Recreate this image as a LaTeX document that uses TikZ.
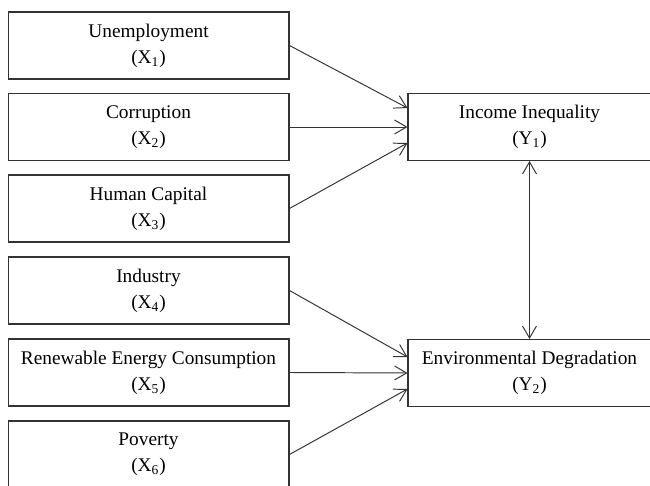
\documentclass[tikz,border=0pt]{standalone}
\usepackage{fontspec}
\setmainfont{Liberation Serif}
\usetikzlibrary{arrows.meta,calc}

\tikzset{
  varbox/.style={draw=black!80, line width=0.6pt, minimum width=5.62cm, minimum height=1.34cm,
    inner sep=0pt, align=center, font=\fontsize{11}{14.8}\selectfont},
  depbox/.style={varbox, minimum width=4.86cm},
  barb/.tip={Straight Barb[length=2.4mm,width=2.8mm]},
  link/.style={draw=black!80, line width=0.55pt, -barb}
}

\begin{document}
\begin{tikzpicture}[x=0.02cm,y=-0.02cm]

\useasboundingbox (0,0) rectangle (650,486);

\node[varbox] (x1) at (148.5,45.5) {Unemployment\\(X\textsubscript{1})};
\node[varbox] (x2) at (148.5,127) {Corruption\\(X\textsubscript{2})};
\node[varbox] (x3) at (148.5,208.5) {Human Capital\\(X\textsubscript{3})};
\node[varbox] (x4) at (148.5,290.5) {Industry\\(X\textsubscript{4})};
\node[varbox] (x5) at (148.5,372.5) {Renewable Energy Consumption\\(X\textsubscript{5})};
\node[varbox] (x6) at (148.5,454.5) {Poverty\\(X\textsubscript{6})};

\node[depbox] (y1) at (529.5,127) {Income Inequality\\(Y\textsubscript{1})};
\node[depbox] (y2) at (529.5,373) {Environmental Degradation\\(Y\textsubscript{2})};

\draw[link] (x1.east) -- ($(y1.west)+(0,-19)$);
\draw[link] (x2.east) -- (y1.west);
\draw[link] (x3.east) -- ($(y1.west)+(0,16)$);

\draw[link] (x4.east) -- ($(y2.west)+(0,-16)$);
\draw[link] (x5.east) -- (y2.west);
\draw[link] (x6.east) -- ($(y2.west)+(0,16)$);

\draw[link,barb-barb] (y1) -- (y2);

\end{tikzpicture}
\end{document}
